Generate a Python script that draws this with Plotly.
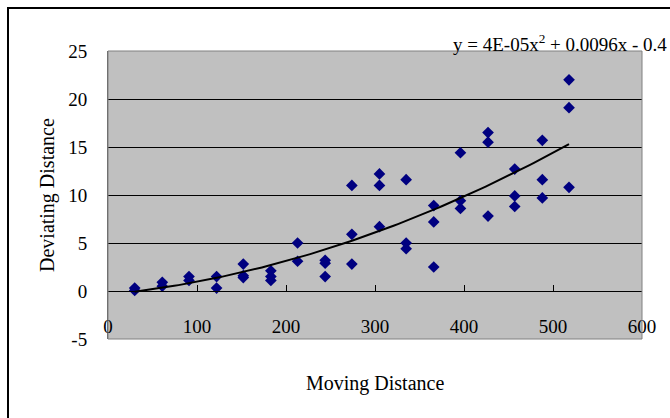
import numpy as np
import plotly.graph_objects as go

# Data
moving_distance = [30, 30, 61, 61, 91, 91, 122, 122,
                   152, 152, 152, 183, 183, 183, 213, 213,
                   244, 244, 244, 274, 274, 274, 305, 305, 305,
                   335, 335, 335, 366, 366, 366, 396, 396, 396,
                   427, 427, 427, 457, 457, 457, 488, 488, 488,
                   518, 518, 518]
deviating_distance = [0.3, 0.05, 0.9, 0.5, 1.5, 1.1, 1.5, 0.3,
                      2.8, 1.6, 1.4, 2.1, 1.5, 1.1, 5.0, 3.1,
                      3.2, 2.9, 1.5, 11.0, 5.9, 2.8, 12.2, 11.0, 6.7,
                      11.6, 5.0, 4.4, 8.9, 7.2, 2.5, 14.4, 9.4, 8.6,
                      16.5, 15.5, 7.8, 12.7, 9.9, 8.8, 15.7, 11.6, 9.7,
                      22.0, 19.1, 10.8]

# Trendline coefficients as printed on the chart (a*x^2 + b*x + c)
trend_coeffs = [4e-05, 0.0096, -0.4]
trend_label = "y = 4E-05x<sup>2</sup> + 0.0096x - 0.4"

x_ticks = [0, 100, 200, 300, 400, 500, 600]
y_ticks = [-5, 0, 5, 10, 15, 20, 25]
y_tick_labels = ["-5", "0", "5", "10", "15", "20", "25"]

FONT = "Liberation Serif, Times New Roman, serif"

tx = np.linspace(min(moving_distance), max(moving_distance), 100)
ty = np.polyval(trend_coeffs, tx)

fig = go.Figure()
fig.add_trace(go.Scatter(
    x=moving_distance, y=deviating_distance, mode="markers",
    marker=dict(symbol="diamond", size=9, color="#000080"),
    showlegend=False, cliponaxis=False))
fig.add_trace(go.Scatter(
    x=tx, y=ty, mode="lines", line=dict(color="black", width=2),
    showlegend=False))

L, R, T, B = 108, 28, 51, 79
PW, PH = 670 - L - R, 418 - T - B

fig.update_layout(
    width=670, height=418,
    margin=dict(l=L, r=R, t=T, b=B, autoexpand=False),
    paper_bgcolor="white", plot_bgcolor="#c0c0c0",
    font=dict(family=FONT, size=19, color="black"),
    xaxis=dict(range=[0, 600], tickvals=x_ticks, showgrid=False,
               zeroline=False, showline=True, linecolor="black", linewidth=1,
               ticks="inside", ticklen=6, tickcolor="black",
               anchor="free", position=48 / PH, ticklabelstandoff=18,
               tickfont=dict(size=19), title=None, automargin=False),
    yaxis=dict(range=[-5, 25], tickvals=y_ticks, ticktext=y_tick_labels,
               showgrid=True,
               gridcolor="black", gridwidth=1, zeroline=False,
               showline=True, linecolor="#606060", linewidth=1,
               ticks="", ticklabelstandoff=16, tickfont=dict(size=19),
               title=None, automargin=False),
    shapes=[
        dict(type="rect", xref="paper", yref="paper", x0=0, x1=1, y0=0, y1=1,
             line=dict(color="#808080", width=1), layer="above"),
        dict(type="rect", xref="paper", yref="paper",
             x0=(8 - L) / PW, x1=(690 - L) / PW,
             y0=(418 - B - 440) / PH, y1=(418 - B - 8) / PH,
             line=dict(color="black", width=2)),
    ],
    annotations=[
        dict(text=trend_label, xref="paper", yref="paper",
             x=(669 - L) / PW, y=(418 - B - 43) / PH,
             xanchor="right", yanchor="middle", showarrow=False,
             font=dict(size=19, family=FONT)),
        dict(text="Moving Distance", xref="paper", yref="paper",
             x=(375 - L) / PW, y=(418 - B - 383) / PH,
             xanchor="center", yanchor="middle", showarrow=False,
             font=dict(size=20, family=FONT)),
        dict(text="Deviating Distance", xref="paper", yref="paper",
             x=(47 - L) / PW, y=(418 - B - 195) / PH, textangle=-90,
             xanchor="center", yanchor="middle", showarrow=False,
             font=dict(size=20, family=FONT)),
    ],
)

fig.write_html("out.html", config={"displayModeBar": False},
               post_script="document.body.style.margin='0';document.body.style.overflow='hidden';")
